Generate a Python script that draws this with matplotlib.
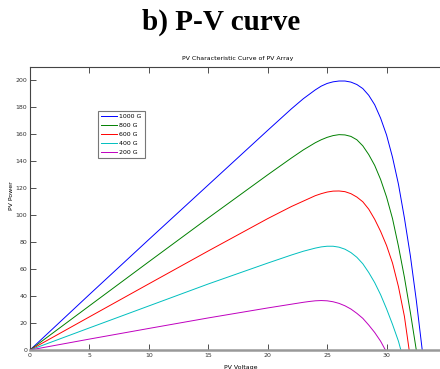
import matplotlib
matplotlib.use('Agg')
import matplotlib.pyplot as plt

# irradiance levels and their P-V curves
labels = ['1000 G', '800 G', '600 G', '400 G', '200 G']
colors = ['b', (0, 0.5, 0), 'r', (0, 0.75, 0.75), (0.75, 0, 0.75)]

v_1000 = [0, 5, 10, 15, 20, 22, 23, 24, 24.5, 25, 25.5, 26, 26.5, 27, 27.5, 28,
          28.5, 29, 29.5, 30, 30.5, 31, 31.5, 32, 32.5, 33.0]
p_1000 = [0, 41.2, 82.0, 122.5, 163, 179, 186.5, 193, 195.8, 197.8, 199, 199.6, 199.6,
          198.8, 197, 194, 189, 182, 172, 159.5, 143, 123, 98, 70, 37, 0]

v_800 = [0, 5, 10, 15, 20, 22, 23, 24, 24.5, 25, 25.5, 26, 26.5, 27, 27.5, 28,
         28.5, 29, 29.5, 30, 30.5, 31, 31.5, 32, 32.5]
p_800 = [0, 32.8, 65.5, 98, 130, 142.5, 148.5, 153.8, 156, 157.8, 159.1, 159.8, 159.6,
         158.5, 156, 151.5, 145, 137, 126.5, 113.5, 97.5, 77, 54, 28, 0]

v_600 = [0, 5, 10, 15, 20, 22, 23, 24, 24.5, 25, 25.5, 26, 26.5, 27, 27.5, 28,
         28.5, 29, 29.5, 30, 30.5, 31, 31.5, 31.9]
p_600 = [0, 24.6, 49.1, 73.5, 97.5, 106.5, 110.5, 114.5, 116, 117.2, 117.9, 118, 117.5,
         116, 113.5, 110, 104.5, 97, 88, 77.5, 64.5, 47, 25, 0]

v_400 = [0, 5, 10, 15, 20, 22, 23, 24, 24.5, 25, 25.5, 26, 26.5, 27, 27.5, 28,
         28.5, 29, 29.5, 30, 30.5, 31, 31.2]
p_400 = [0, 16.4, 32.7, 49, 64.5, 70.5, 73.3, 75.6, 76.5, 77, 77, 76.3, 74.8,
         72.3, 68.8, 64, 57.5, 50, 41, 30.5, 19, 6.5, 0]

v_200 = [0, 5, 10, 15, 20, 22, 23, 23.5, 24, 24.5, 25, 25.5, 26, 26.5, 27, 27.5,
         28, 28.5, 29, 29.5, 29.9]
p_200 = [0, 8.1, 16, 23.8, 31.2, 34, 35.4, 36, 36.5, 36.7, 36.5, 35.8, 34.6, 32.8,
         30.4, 27.2, 23.5, 18.5, 13, 6.5, 0]

volts = [v_1000, v_800, v_600, v_400, v_200]
powers = [p_1000, p_800, p_600, p_400, p_200]

fig = plt.figure(figsize=(4.4, 3.69), dpi=100)
fig.text(0.503, 0.94, 'b) P-V curve', ha='center', va='center',
         fontsize=21, fontweight='bold', family='Liberation Serif')

ax = fig.add_axes([30/440, 19/369, 416/440, 283/369])
for v, p, c, lab in zip(volts, powers, colors, labels):
    ax.plot(v, p, color=c, lw=0.7, label=lab)

ax.set_xlim(0, 35)
ax.set_ylim(0, 210)
ax.set_xticks(range(0, 31, 5))
ax.set_yticks(range(0, 201, 20))
ax.tick_params(direction='in', length=4, width=0.6, labelsize=4.5,
               top=True, pad=2, colors='#333333')
for s in ax.spines.values():
    s.set_linewidth(0.8)
    s.set_color('#444444')
ax.spines['bottom'].set_linewidth(1.8)
ax.spines['bottom'].set_color('#999999')

ax.set_title('PV Characteristic Curve of PV Array', fontsize=4.5, pad=5)
ax.set_xlabel('PV Voltage', fontsize=4.5)
ax.xaxis.set_label_coords((241 - 30) / 416, -15 / 283)
ax.set_ylabel('PV Power', fontsize=4.5)
ax.yaxis.set_label_coords(-16 / 416, 154 / 283)

leg = ax.legend(loc='upper left', bbox_to_anchor=(68/416, 1 - 44/283),
                borderaxespad=0, fontsize=4.5, frameon=True, fancybox=False,
                handlelength=2.6, borderpad=0.5, labelspacing=0.55,
                handletextpad=0.3)
leg.get_frame().set_edgecolor('#555555')
leg.get_frame().set_linewidth(0.8)

fig.savefig('out.png', dpi=100)
